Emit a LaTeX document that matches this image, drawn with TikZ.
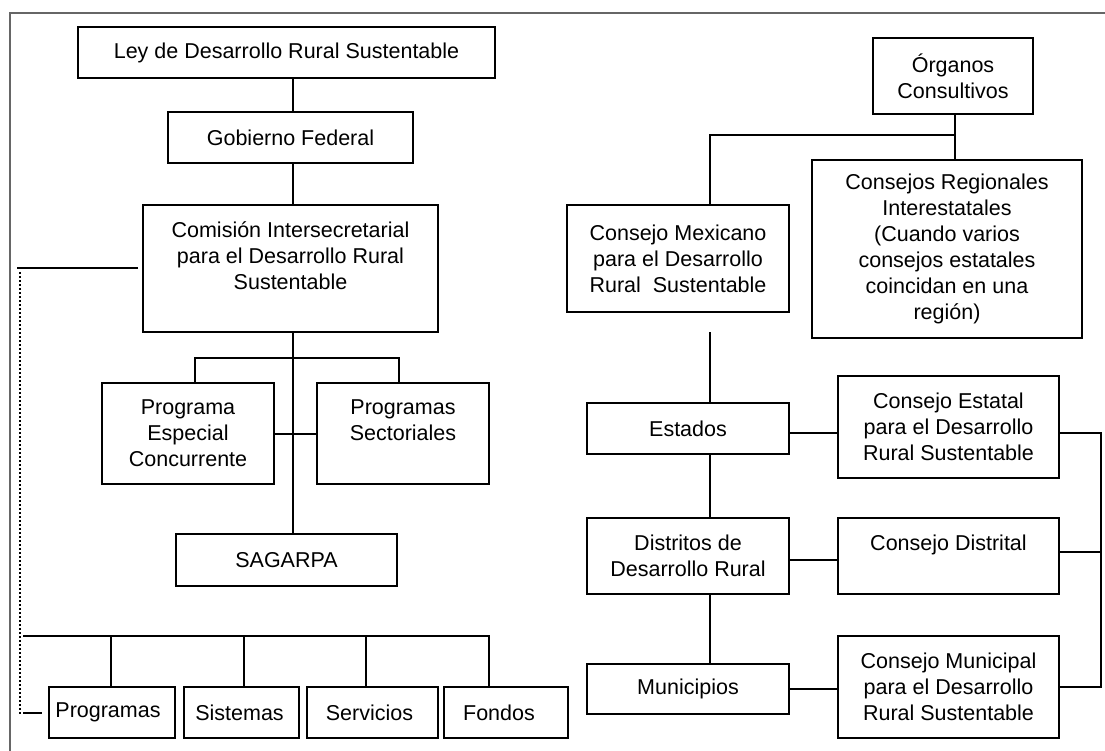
\documentclass[tikz,border=0pt]{standalone}
\usepackage{fontspec}
\setmainfont{Liberation Sans}
\usetikzlibrary{positioning, calc}

\tikzset{
  box/.style={draw, line width=2pt, align=center, inner sep=0pt,
    font=\fontsize{21.5}{26}\selectfont},
  link/.style={line width=2pt},
  frame/.style={draw=black!60, line width=2pt}
}

\begin{document}
\begin{tikzpicture}[x=1pt, y=-1pt]
    \useasboundingbox (0,0) rectangle (1105,751);
    \draw[frame] (1105,13) -| (10,751);

    % left column
    \node[box, minimum width=417, minimum height=51] (ley) at (286.5,52.5) {Ley de Desarrollo Rural Sustentable};
    \node[box, minimum width=245, minimum height=51] (gob) at (290.5,137.5) {Gobierno Federal};
    \node[box, minimum width=295, minimum height=127] (cis) at (290.5,268.5) {Comisión Intersecretarial\\para el Desarrollo Rural\\Sustentable\\~};
    \node[box, minimum width=172, minimum height=101] (pec) at (188,433.5) {Programa\\Especial\\Concurrente};
    \node[box, minimum width=172, minimum height=101] (psec) at (403,433.5) {Programas\\Sectoriales\\~};
    \node[box, minimum width=221, minimum height=52] (sag) at (286.5,560) {SAGARPA};

    \node[box, minimum width=126, minimum height=51] (prog) at (112,712.5) {Programas\hspace*{8pt}};
    \node[box, minimum width=115, minimum height=51] (sist) at (241.5,712.5) {Sistemas\hspace*{4pt}};
    \node[box, minimum width=131, minimum height=51] (serv) at (372.5,712.5) {Servicios\hspace*{6pt}};
    \node[box, minimum width=124, minimum height=51] (fond) at (506,712.5) {Fondos\hspace*{14pt}};

    % right column
    \node[box, minimum width=160, minimum height=76] (org) at (953,76) {Órganos\\Consultivos};
    \node[box, minimum width=222, minimum height=107] (cmdrs) at (678,258.5) {Consejo Mexicano\\para el Desarrollo\\Rural\ \ Sustentable};
    \node[box, minimum width=270, minimum height=178] (cri) at (947,249) {Consejos Regionales\\Interestatales\\(Cuando varios\\consejos estatales\\coincidan en una\\región)};
    \node[box, minimum width=202, minimum height=51] (est) at (688,428.5) {Estados};
    \node[box, minimum width=202, minimum height=76] (dist) at (688,556) {Distritos de\\Desarrollo Rural};
    \node[box, minimum width=202, minimum height=50] (mun) at (688,689) {Municipios};
    \node[box, minimum width=221, minimum height=102] (cedrs) at (948.5,427) {Consejo Estatal\\para el Desarrollo\\Rural Sustentable};
    \node[box, minimum width=221, minimum height=76] (cdist) at (948.5,556) {Consejo Distrital\\~};
    \node[box, minimum width=221, minimum height=102] (cmun) at (948.5,687) {Consejo Municipal\\para el Desarrollo\\Rural Sustentable};

    \coordinate (spine) at (293,0);
    \coordinate (bar) at (293,358);
    \coordinate (lx) at (17,0);
    \coordinate (dt) at (20,272);
    \coordinate (bb) at (23,636);
    \coordinate (og) at (955,135);
    \coordinate (rcol) at (710,0);
    \coordinate (bus) at (1101,0);

    % left connectors
    \draw[link] (ley.south -| spine) -- (gob.north -| spine);
    \draw[link] (gob.south -| spine) -- (cis.north -| spine);
    \draw[link] (cis.south -| spine) -- (sag.north -| spine);
    \draw[link] ([xshift=7pt]pec.north) |- (bar) -| ([xshift=-4pt]psec.north);
    \draw[link] (pec.east) -- (psec.west);
    \draw[link] ([xshift=-4pt]cis.west) -- (cis.west -| lx);
    \draw[link, dotted] (dt) |- ([xshift=-24pt]prog.west);
    \draw[link] ([xshift=-24pt]prog.west) -- ([xshift=-6pt]prog.west);
    \draw[link] (bb) -| ([xshift=-17pt]fond.north);
    \foreach \n/\dx in {prog/-1, sist/2.5, serv/-6.5}
        \draw[link] ([xshift=\dx pt]\n.north) -- ([xshift=\dx pt]\n.north |- bb);

    % right connectors
    \draw[link] ([xshift=2pt]org.south) -- ([xshift=2pt]org.south |- cri.north);
    \draw[link] (og) -| (cmdrs.north -| rcol);
    \draw[link] ([yshift=-19pt]cmdrs.south -| rcol) -- (est.north -| rcol);
    \draw[link] (est.south -| rcol) -- (dist.north -| rcol);
    \draw[link] (dist.south -| rcol) -- (mun.north -| rcol);
    \draw[link] ([yshift=-4.5pt]est.east) -- ([yshift=-4.5pt]est.east -| cedrs.west);
    \draw[link] ([yshift=-4pt]dist.east) -- ([yshift=-4pt]dist.east -| cdist.west);
    \draw[link] (mun.east) -- (mun.east -| cmun.west);
    \draw[link] ([yshift=-6pt]cedrs.east) -| (cmun.east -| bus) -- (cmun.east);
    \draw[link] ([yshift=4pt]cdist.east) -- ([yshift=4pt]cdist.east -| bus);
\end{tikzpicture}
\end{document}
